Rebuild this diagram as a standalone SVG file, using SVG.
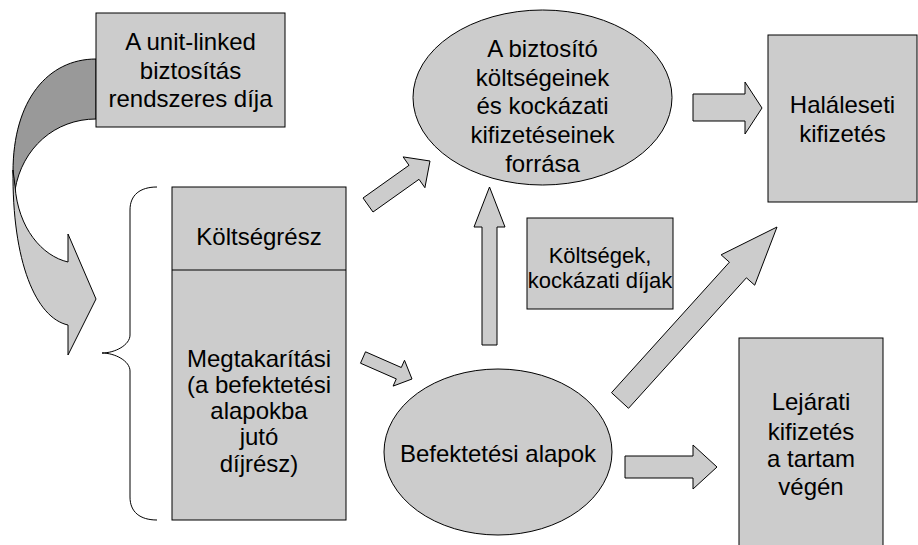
<svg xmlns="http://www.w3.org/2000/svg" width="918" height="545" viewBox="0 0 918 545">
<style>
.box{fill:#cccccc;stroke:#000;stroke-width:1}
.arr{fill:#cccccc;stroke:#000;stroke-width:1;stroke-linejoin:miter}
.dark{fill:#999999;stroke:#000;stroke-width:1}
.brace{fill:none;stroke:#000;stroke-width:1}
text{font-family:"Liberation Sans",Arial,sans-serif;font-size:24px;fill:#000;text-anchor:middle}
.sm{font-size:22px}
</style>
<rect width="918" height="545" fill="#fff"/>
<g id="connectors">
  <path class="dark" d="M96,59 C48,59 13,100 13,172 L15,190 C22,148 55,119 96,119 Z"/>
  <path class="arr" d="M13,170 C12,262 36,318 68,325 L68,355 L96,299 L68,234 L68,262 C42,256 18,228 15,186 Z"/>
  <polygon class="arr" points="363,198 409,165.3 403.1,156.9 430,161 424.9,187.7 419,179.3 373,212"/>
  <polygon class="arr" points="482,345 482,227 474,227 489.5,187 505,227 497,227 497,345"/>
  <polygon class="arr" points="693,94 745,94 745,82 762,108 745,134 745,121 693,121"/>
  <polygon class="arr" points="611.5,392.7 729.4,262.2 721.1,254.8 777,227 754.7,285.2 746.4,277.8 628.5,408.3"/>
  <polygon class="arr" points="365.5,351.8 401.3,367.5 404.5,360.3 412,379 393.1,386.1 396.3,378.9 360.5,363.2"/>
  <polygon class="arr" points="625,456 693,456 693,445 717,467 693,489 693,478 625,478"/>
</g>
<g id="premium">
  <rect class="box" x="96" y="13" width="189" height="114"/>
  <text x="190.5" y="50">A unit-linked</text>
  <text x="190.5" y="79">biztosítás</text>
  <text x="190.5" y="107">rendszeres díja</text>
</g>
<g id="brace">
  <path class="brace" d="M157,187 C140,187 130,195 130,210 L130,335 C130,345 115,353 102,353 C115,353 130,361 130,371 L130,497 C130,512 140,520 157,520"/>
</g>
<g id="split">
  <rect class="box" x="172" y="187" width="174" height="333"/>
  <line x1="172" y1="270" x2="346" y2="270" stroke="#000" stroke-width="1"/>
  <text x="259" y="245">Költségrész</text>
  <text x="259" y="367">Megtakarítási</text>
  <text x="259" y="393">(a befektetési</text>
  <text x="259" y="419">alapokba</text>
  <text x="259" y="445">jutó</text>
  <text x="259" y="472">díjrész)</text>
</g>
<g id="insurer">
  <ellipse class="box" cx="542.5" cy="97.5" rx="129.5" ry="87.5"/>
  <text x="542.5" y="57">A biztosító</text>
  <text x="542.5" y="86">költségeinek</text>
  <text x="542.5" y="114">és kockázati</text>
  <text x="542.5" y="143">kifizetéseinek</text>
  <text x="542.5" y="172">forrása</text>
</g>
<g id="costs">
  <rect class="box" x="527" y="218" width="146" height="91"/>
  <text class="sm" x="600" y="263">Költségek,</text>
  <text class="sm" x="600" y="288">kockázati díjak</text>
</g>
<g id="funds">
  <ellipse class="box" cx="498" cy="452" rx="114" ry="83"/>
  <text x="498" y="462">Befektetési alapok</text>
</g>
<g id="death">
  <rect class="box" x="768" y="35" width="149" height="167"/>
  <text x="842.5" y="113">Haláleseti</text>
  <text x="842.5" y="142">kifizetés</text>
</g>
<g id="maturity">
  <rect class="box" x="739" y="338" width="144" height="215"/>
  <text x="811" y="410">Lejárati</text>
  <text x="811" y="440">kifizetés</text>
  <text x="811" y="467">a tartam</text>
  <text x="811" y="495">végén</text>
</g>
</svg>
